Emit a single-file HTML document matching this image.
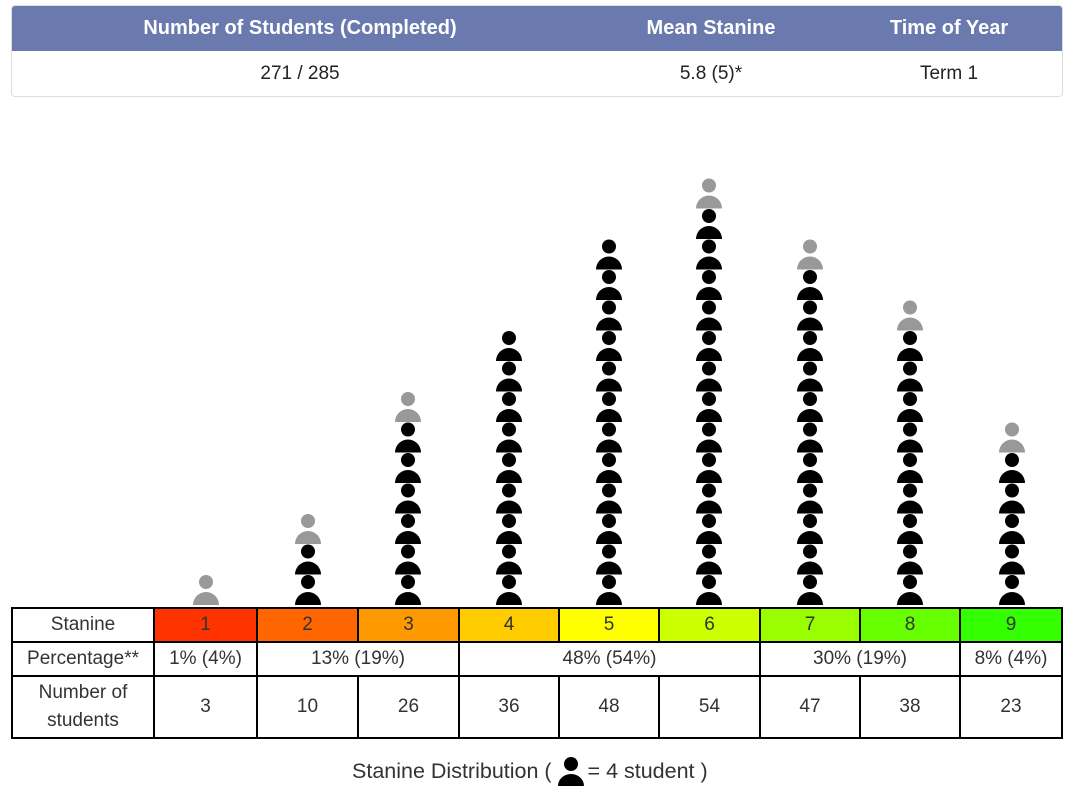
<!DOCTYPE html>
<html><head><meta charset="utf-8"><style>
body{margin:0;width:1075px;height:796px;background:#fff;font-family:"Liberation Sans",sans-serif;position:relative;overflow:hidden;color:#222}
.hdr{position:absolute;left:11px;top:5px;width:1052px;height:92px;border:1px solid #ddd;border-radius:4px;box-sizing:border-box;overflow:hidden}
.band{position:absolute;left:0;top:0;width:100%;height:45px;background:#6b7aae}
.ht{position:absolute;color:#fff;font-weight:bold;font-size:20px;top:11px;transform:translateX(-50%);white-space:nowrap}
.hv{position:absolute;font-size:19px;top:57px;transform:translateX(-50%);white-space:nowrap;color:#222}
table{position:absolute;left:11px;top:607px;border-collapse:collapse;font-size:19px}
td{border:2px solid #000;text-align:center;padding:0;color:#333}
</style></head><body>
<div class="hdr">
<div class="band"></div>
<div class="ht" style="left:288px">Number of Students (Completed)</div>
<div class="ht" style="left:699px">Mean Stanine</div>
<div class="ht" style="left:937px">Time of Year</div>
<div class="hv" style="left:288px">271 / 285</div>
<div class="hv" style="left:699px">5.8 (5)*</div>
<div class="hv" style="left:937px">Term 1</div>
</div>
<svg id="chart" width="1075" height="796" style="position:absolute;left:0;top:0"></svg>
<table>
<tr style="height:34px">
<td style="width:140px">Stanine</td>
<td style="width:101px;background:#ff3300">1</td>
<td style="width:99px;background:#ff6600">2</td>
<td style="width:99px;background:#ff9900">3</td>
<td style="width:98px;background:#ffcc00">4</td>
<td style="width:98px;background:#ffff00">5</td>
<td style="width:99px;background:#ccff00">6</td>
<td style="width:98px;background:#99ff00">7</td>
<td style="width:98px;background:#66ff00">8</td>
<td style="width:100px;background:#33ff00">9</td>
</tr>
<tr style="height:34px">
<td>Percentage**</td>
<td>1% (4%)</td>
<td colspan="2">13% (19%)</td>
<td colspan="3">48% (54%)</td>
<td colspan="2">30% (19%)</td>
<td>8% (4%)</td>
</tr>
<tr style="height:62px" id="countrow">
<td style="line-height:28px">Number of<br>students</td>
</tr>
</table>
<div style="position:absolute;left:352px;top:756px;font-size:21.5px;color:#333;white-space:nowrap">Stanine Distribution ( <svg width="30" height="30" style="vertical-align:-8px"><circle cx="13" cy="8" r="7"/><path d="M0 30 A13 12 0 0 1 26 30Z"/></svg>= 4 student )</div>
<script>
const stanines=[1,2,3,4,5,6,7,8,9];
const counts=[3,10,26,36,48,54,47,38,23];
const perIcon=4;
const centers=[206,308,408,509,609,709,810,910,1012];
const svg=document.getElementById('chart');
const NS='http://www.w3.org/2000/svg';
const baseY=605,pitch=30.5;
function yAt(i){return baseY-(i+1)*pitch;}
counts.forEach((c,k)=>{
  const full=Math.floor(c/perIcon), part=c%perIcon>0?1:0;
  const cx=centers[k];
  for(let i=0;i<full+part;i++){
    const g=document.createElementNS(NS,'g');
    
    
    g.setAttribute('fill',i<full?'#000':'#999');
    const t=yAt(i);
    const h=document.createElementNS(NS,'circle');
    h.setAttribute('cx',cx);h.setAttribute('cy',t+7.5);h.setAttribute('r',7);
    const b=document.createElementNS(NS,'path');
    b.setAttribute('d',`M${cx-13} ${t+pitch} A13 13 0 0 1 ${cx+13} ${t+pitch}Z`);
    g.appendChild(h);g.appendChild(b);svg.appendChild(g);
  }
  const td=document.createElement('td');
  
  
  td.textContent=c;
  document.getElementById('countrow').appendChild(td);
});
</script>
</body></html>
